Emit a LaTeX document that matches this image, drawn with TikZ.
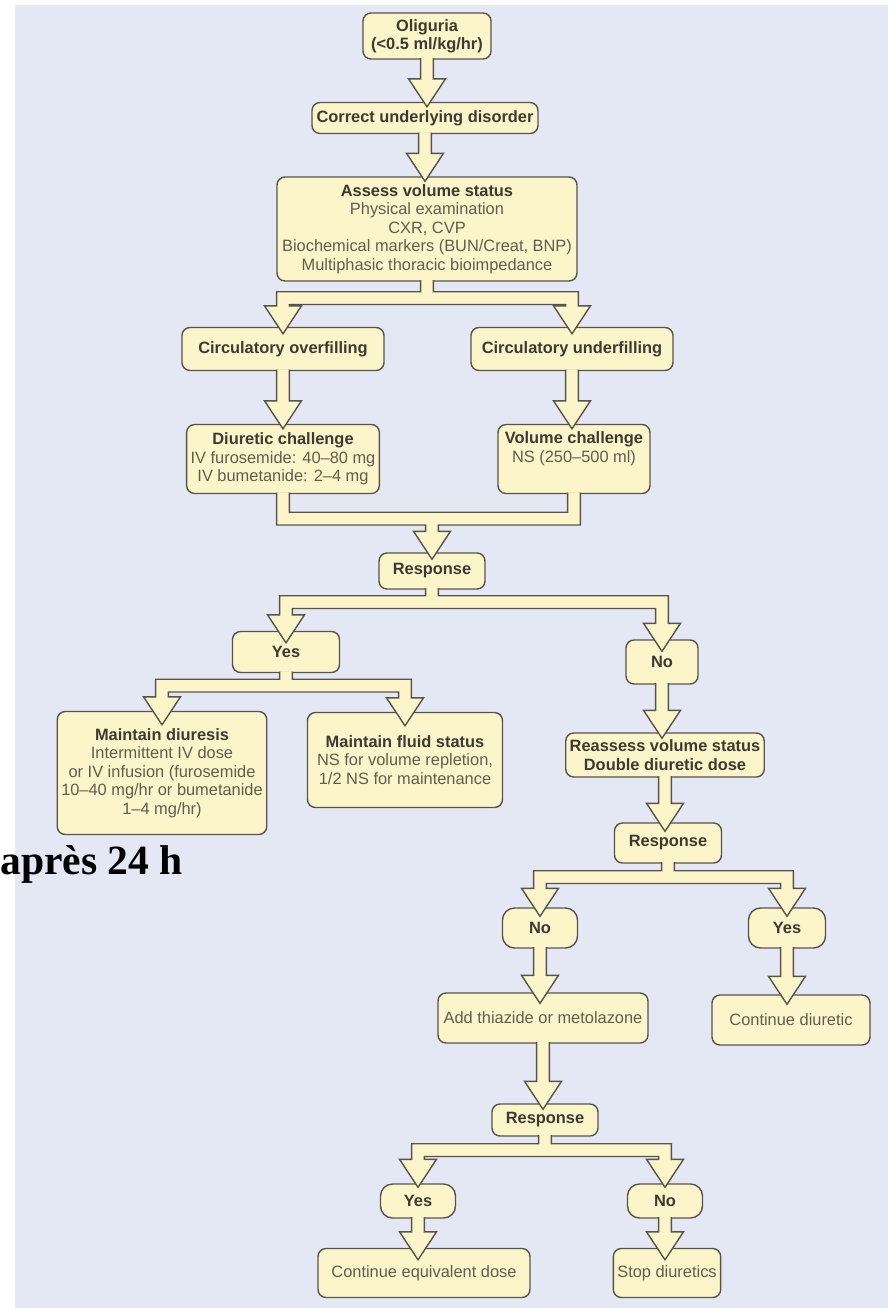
\documentclass[tikz,border=0pt]{standalone}
\usepackage{fontspec}
\setmainfont{Liberation Sans}
\newfontfamily\notefont{Liberation Serif}
\usetikzlibrary{calc}

\definecolor{bgblue}{HTML}{E4E8F5}
\definecolor{boxfill}{HTML}{FBF5C9}
\definecolor{boxline}{HTML}{57544B}
\definecolor{headtxt}{HTML}{3C3A33}
\definecolor{subtxt}{HTML}{625D51}

\newcommand\boxhead[1]{\textcolor{headtxt}{\bfseries #1}}
\def\shaftw{3.2pt}\def\headw{9.25pt}\def\headl{14pt}

% straight block arrow: [tip overlap]{from}{to}
\newcommand\blkarrow[3][3.5pt]{%
  \draw[blk] let \p1=(#2.south), \p2=(#3.north) in
    ({\x1-\shaftw},{\y1+0.8pt}) -- ({\x1-\shaftw},{\y2-#1+\headl}) -- ({\x1-\headw},{\y2-#1+\headl})
    -- (\x1,{\y2-#1}) -- ({\x1+\headw},{\y2-#1+\headl}) -- ({\x1+\shaftw},{\y2-#1+\headl})
    -- ({\x1+\shaftw},{\y1+0.8pt});
}
% branching block arrow: [tip overlap]{from}{left}{right}{gap}
\newcommand\blksplit[5][3.5pt]{%
  \draw[blk] let \p1=(#2.south), \p2=(#3.north), \p3=(#4.north), \p4=($(#2.south)+(0pt,-#5)$) in
    ({\x1-\shaftw},{\y1+0.8pt}) -- ({\x1-\shaftw},\y4) -- ({\x2-\shaftw},\y4)
    -- ({\x2-\shaftw},{\y2-#1+\headl}) -- ({\x2-\headw},{\y2-#1+\headl}) -- (\x2,{\y2-#1})
    -- ({\x2+\headw},{\y2-#1+\headl}) -- ({\x2+\shaftw},{\y2-#1+\headl}) -- ({\x2+\shaftw},{\y4-2*\shaftw})
    -- ({\x3-\shaftw},{\y4-2*\shaftw}) -- ({\x3-\shaftw},{\y3-#1+\headl}) -- ({\x3-\headw},{\y3-#1+\headl})
    -- (\x3,{\y3-#1}) -- ({\x3+\headw},{\y3-#1+\headl}) -- ({\x3+\shaftw},{\y3-#1+\headl})
    -- ({\x3+\shaftw},\y4) -- ({\x1+\shaftw},\y4) -- ({\x1+\shaftw},{\y1+0.8pt});
}
% joining block arrow: [tip overlap]{left}{right}{to}{gap}
\newcommand\blkmerge[5][3.5pt]{%
  \draw[blk] let \p1=(#2.south), \p2=(#3.south), \p3=(#4.north), \p4=($(#2.south)+(0pt,-#5)$) in
    ({\x1-\shaftw},{\y1+0.8pt}) -- ({\x1-\shaftw},{\y4-2*\shaftw}) -- ({\x3-\shaftw},{\y4-2*\shaftw})
    -- ({\x3-\shaftw},{\y3-#1+\headl}) -- ({\x3-\headw},{\y3-#1+\headl}) -- (\x3,{\y3-#1})
    -- ({\x3+\headw},{\y3-#1+\headl}) -- ({\x3+\shaftw},{\y3-#1+\headl}) -- ({\x3+\shaftw},{\y4-2*\shaftw})
    -- ({\x2+\shaftw},{\y4-2*\shaftw}) -- ({\x2+\shaftw},{\y2+0.8pt})
    ({\x2-\shaftw},{\y2+0.8pt}) -- ({\x2-\shaftw},\y4) -- ({\x1+\shaftw},\y4) -- ({\x1+\shaftw},{\y1+0.8pt});
}

\tikzset{
  flowbox/.style={draw=boxline, fill=boxfill, line width=0.7pt, rounded corners=4pt,
    align=center, text=subtxt, inner sep=2pt, font=\fontsize{8.2}{9.2}\selectfont},
  pillbox/.style={flowbox, rounded corners=6pt},
  blk/.style={draw=boxline, fill=boxfill, line width=0.7pt, line join=miter},
}

\begin{document}
\begin{tikzpicture}[x=0.5pt, y=-0.5pt]

\useasboundingbox (0,0) rectangle (888,1308);
\fill[bgblue] (15,5) rectangle (888,1308);

% Nodes
\node[flowbox, minimum width=64pt, minimum height=23pt] (olig) at (427,36) {\boxhead{Oliguria}\\\boxhead{(<0.5 ml/kg/hr)}};
\node[flowbox, minimum width=113pt, minimum height=15.5pt] (correct) at (425,118) {\boxhead{Correct underlying disorder}};
\node[flowbox, minimum width=150pt, minimum height=52pt] (assess) at (427,229) {\boxhead{Assess volume status}\\Physical examination\\CXR, CVP\\Biochemical markers (BUN/Creat, BNP)\\Multiphasic thoracic bioimpedance};
\node[flowbox, minimum width=101pt, minimum height=21.5pt] (overfill) at (283,349) {\boxhead{Circulatory overfilling}};
\node[flowbox, minimum width=101pt, minimum height=21.5pt] (underfill) at (572,349) {\boxhead{Circulatory underfilling}};
\node[flowbox, minimum width=95.5pt, minimum height=34.5pt] (diuretic) at (283,459) {\boxhead{Diuretic challenge}\\IV furosemide: 40--80 mg\\IV bumetanide: 2--4 mg};
\node[flowbox, minimum width=76pt, minimum height=34.5pt, text depth=12pt] (volume) at (574,459) {\boxhead{Volume challenge}\\NS (250--500 ml)};
\node[flowbox, minimum width=53pt, minimum height=18pt] (resp1) at (432,571) {\boxhead{Response}};
\node[flowbox, minimum width=53.5pt, minimum height=20.5pt] (yes1) at (286,652) {\boxhead{Yes}};
\node[flowbox, minimum width=36pt, minimum height=22pt] (no1) at (662,662) {\boxhead{No}};
\node[flowbox, minimum width=104.5pt, minimum height=61.5pt] (maintdiur) at (162,773) {\boxhead{Maintain diuresis}\\Intermittent IV dose\\or IV infusion (furosemide\\10--40 mg/hr or bumetanide\\1--4 mg/hr)};
\node[flowbox, minimum width=97.5pt, minimum height=47.5pt] (maintfluid) at (405,760) {\boxhead{Maintain fluid status}\\NS for volume repletion,\\1/2 NS for maintenance};
\node[flowbox, minimum width=98pt, minimum height=22pt] (reassess) at (665,755) {\boxhead{Reassess volume status}\\\boxhead{Double diuretic dose}};
\node[flowbox, minimum width=53.5pt, minimum height=20pt] (resp2) at (668,843) {\boxhead{Response}};
\node[pillbox, minimum width=37.5pt, minimum height=20pt] (no2) at (540,928) {\boxhead{No}};
\node[pillbox, minimum width=38.5pt, minimum height=20pt] (yes2) at (787,928) {\boxhead{Yes}};
\node[flowbox, minimum width=105pt, minimum height=25pt] (thiazide) at (543,1018) {Add thiazide or metolazone};
\node[flowbox, minimum width=79pt, minimum height=25pt] (contdiur) at (791,1020) {Continue diuretic};
\node[flowbox, minimum width=53pt, minimum height=16pt] (resp3) at (545,1120) {\boxhead{Response}};
\node[pillbox, minimum width=37.5pt, minimum height=17pt] (yes3) at (418,1201) {\boxhead{Yes}};
\node[pillbox, minimum width=37.5pt, minimum height=17pt] (no3) at (665,1201) {\boxhead{No}};
\node[flowbox, minimum width=106pt, minimum height=24.5pt] (contequiv) at (424,1273) {Continue equivalent dose};
\node[flowbox, minimum width=53.5pt, minimum height=24.5pt] (stopdiur) at (667,1273) {Stop diuretics};

\node[anchor=base west, inner sep=0pt, font=\notefont\bfseries\fontsize{20.8}{24}\selectfont] (delay) at (0,874) {après 24 h};

% Arrows
\blkarrow[2.5pt]{olig}{correct}
\blkarrow[2.5pt]{correct}{assess}
\blksplit{assess}{overfill}{underfill}{5pt}
\blkarrow[2.5pt]{overfill}{diuretic}
\blkarrow[2.5pt]{underfill}{volume}
\blkmerge{diuretic}{volume}{resp1}{9pt}
\blksplit[6pt]{resp1}{yes1}{no1}{3pt}
\blksplit[7pt]{yes1}{maintdiur}{maintfluid}{3pt}
\blkarrow[3pt]{no1}{reassess}
\blkarrow[4.5pt]{reassess}{resp2}
\blksplit[4.5pt]{resp2}{no2}{yes2}{3.5pt}
\blkarrow[5.5pt]{no2}{thiazide}
\blkarrow[5pt]{yes2}{contdiur}
\blkarrow[3pt]{thiazide}{resp3}
\blksplit[2pt]{resp3}{yes3}{no3}{3.5pt}
\blkarrow[6pt]{yes3}{contequiv}
\blkarrow[6pt]{no3}{stopdiur}

\end{tikzpicture}
\end{document}
